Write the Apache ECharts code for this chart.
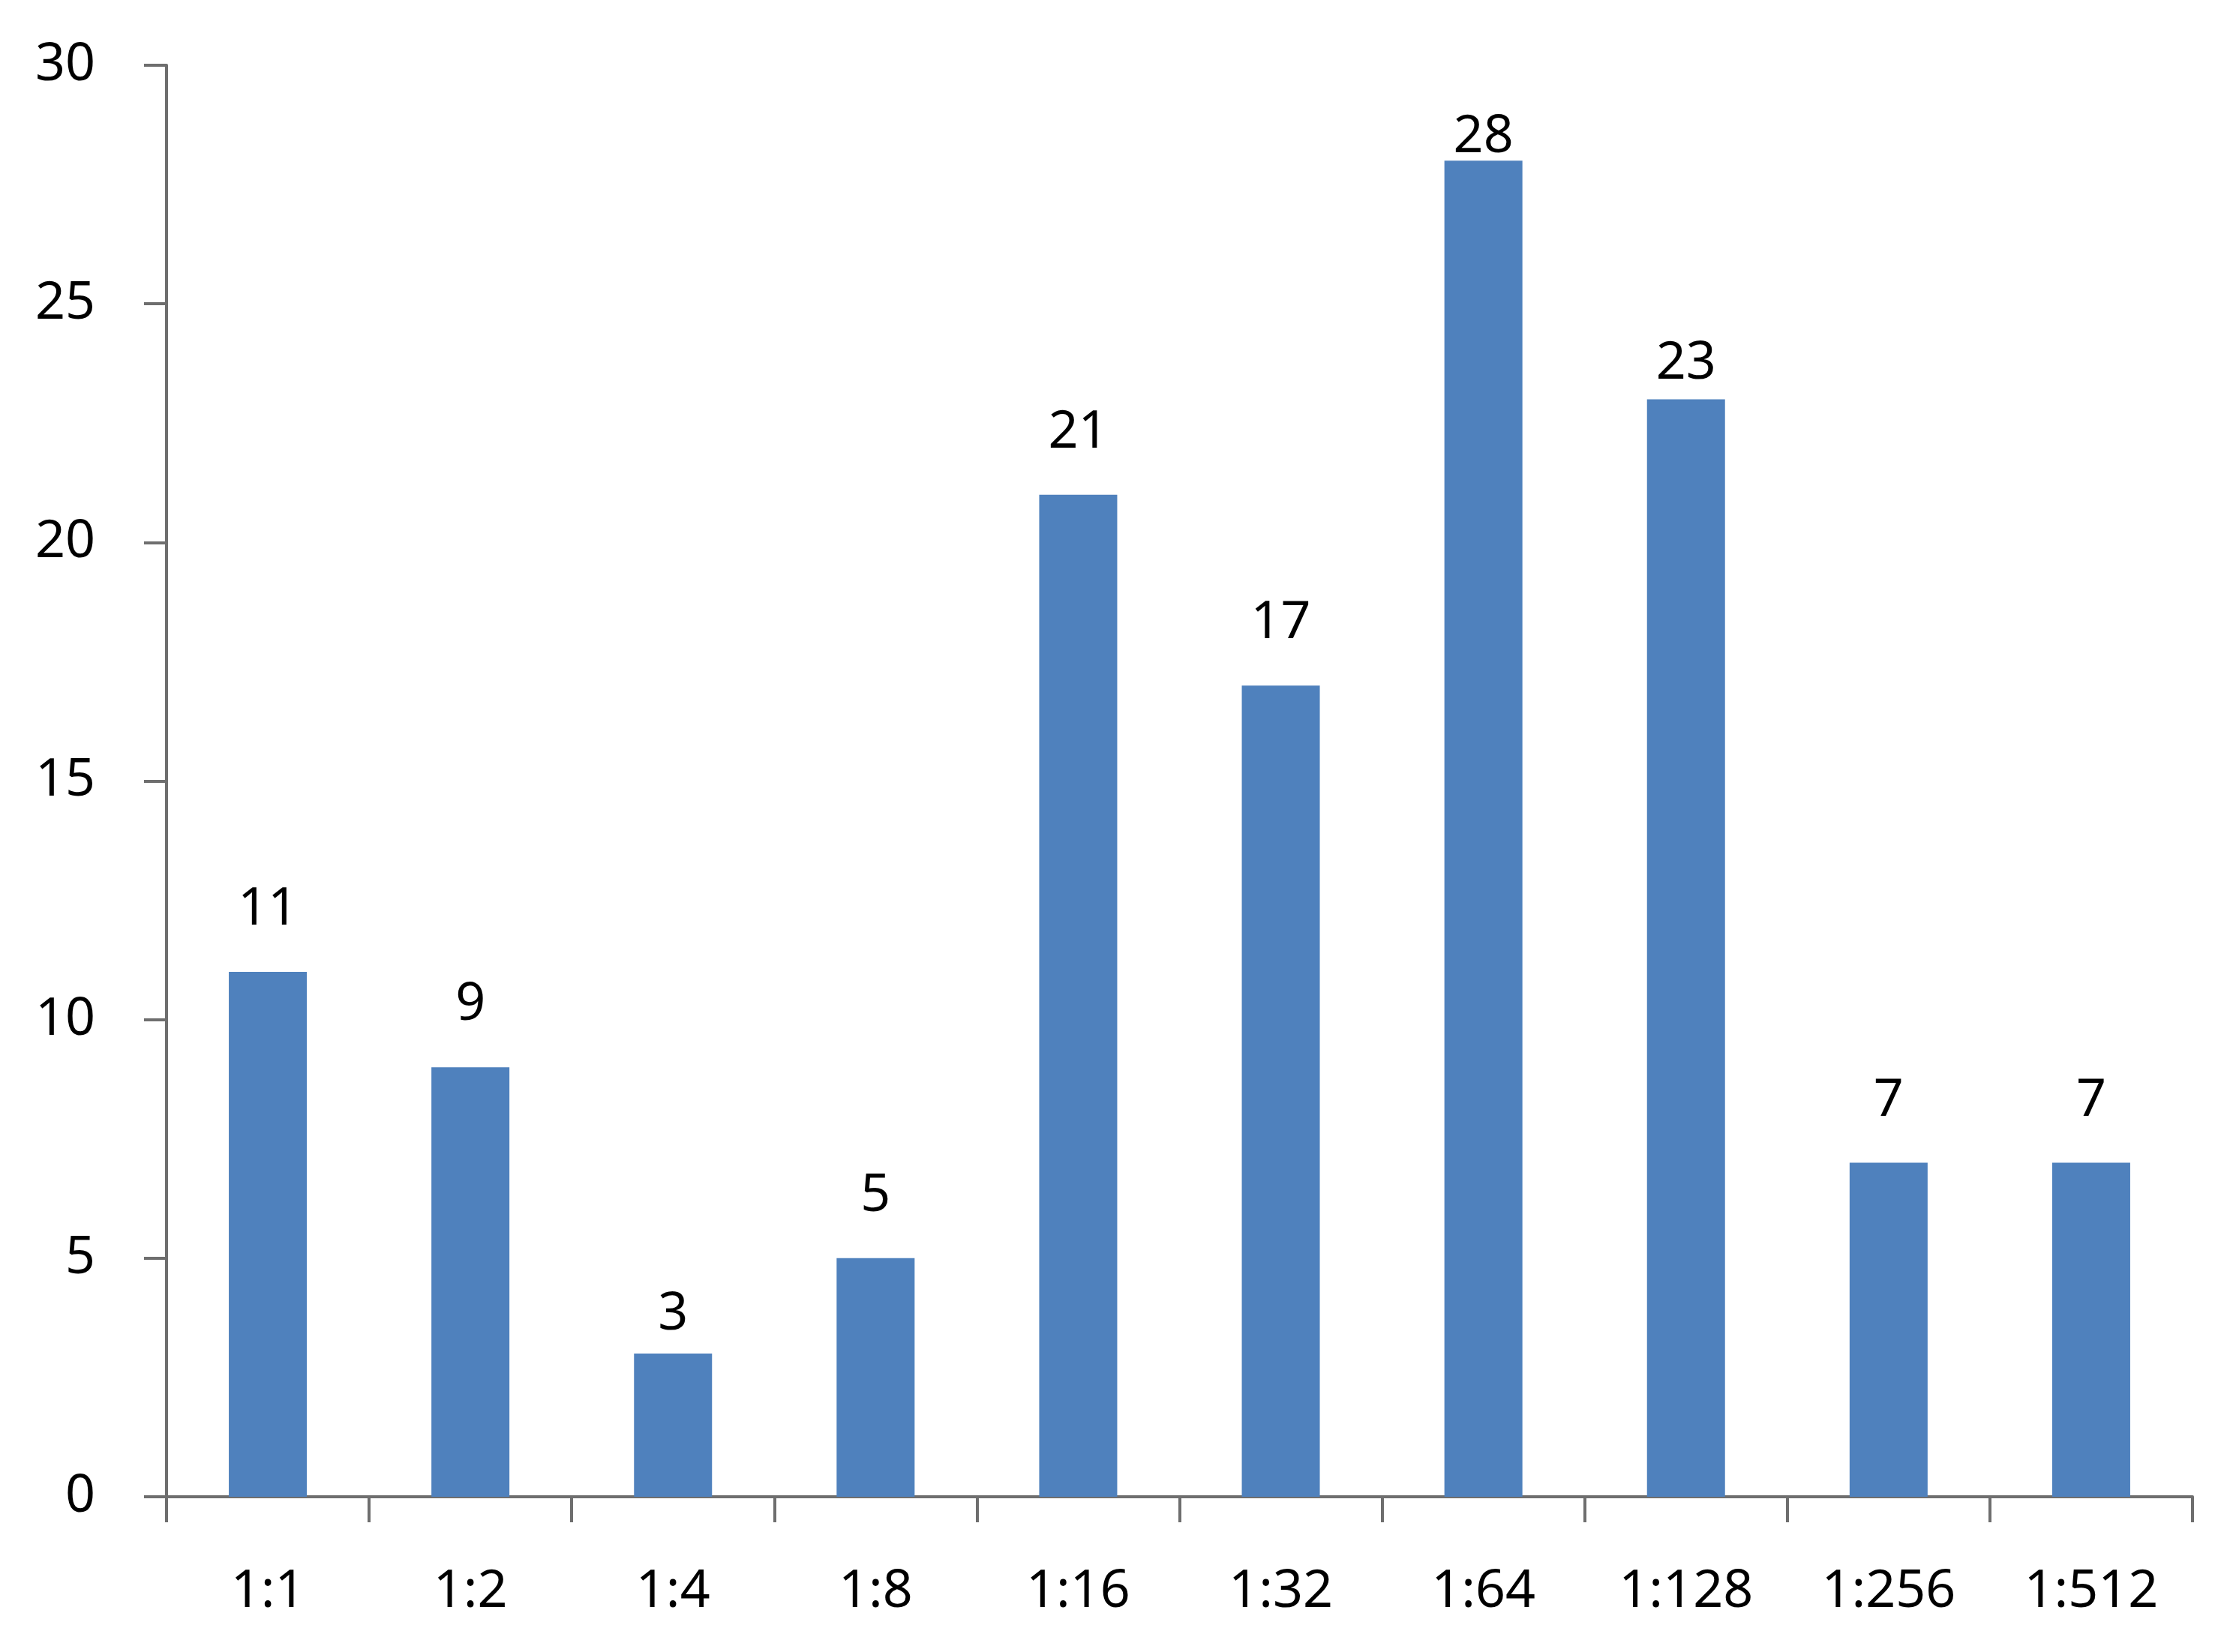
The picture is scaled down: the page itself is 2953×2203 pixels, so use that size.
<!DOCTYPE html>
<html>
<head>
<meta charset="utf-8">
<script src="https://cdn.jsdelivr.net/npm/echarts@6/dist/echarts.min.js"></script>
<style>
html,body{margin:0;padding:0;background:#fff;}
#c{width:2953px;height:2203px;}
</style>
</head>
<body>
<div id="c"></div>
<script>
const categories = ['1:1','1:2','1:4','1:8','1:16','1:32','1:64','1:128','1:256','1:512'];
const values = [11, 9, 3, 5, 21, 17, 28, 23, 7, 7];
const yMin = 0, yMax = 30, yStep = 5;

const chart = echarts.init(document.getElementById('c'), null, {renderer:'canvas'});
const font = '"Noto Sans", "Open Sans", sans-serif';
// label offsets above bars, as placed in the reference
const labelDist = {2: 17, 6: -4, 7: 12};
const seriesData = values.map((v, i) => {
  const d = {value: v};
  if (labelDist[i] !== undefined) d.label = {distance: labelDist[i]};
  return d;
});
chart.setOption({
  animation: false,
  backgroundColor: '#ffffff',
  grid: {left: 222, right: 30, top: 87, bottom: 207, containLabel: false},
  xAxis: {
    type: 'category',
    data: categories,
    boundaryGap: true,
    axisLine: {show: true, lineStyle: {color: '#6e6e6e', width: 4}},
    axisTick: {show: true, length: 34, lineStyle: {color: '#6e6e6e', width: 4}},
    axisLabel: {color: '#000', fontSize: 70, fontFamily: font, margin: 92}
  },
  yAxis: {
    type: 'value',
    min: yMin, max: yMax, interval: yStep,
    axisLine: {show: true, lineStyle: {color: '#6e6e6e', width: 4}},
    axisTick: {show: true, length: 30, lineStyle: {color: '#6e6e6e', width: 4}},
    splitLine: {show: false},
    axisLabel: {color: '#000', fontSize: 70, fontFamily: font, margin: 95}
  },
  series: [{
    type: 'bar',
    data: seriesData,
    barWidth: 104,
    itemStyle: {color: '#4F81BD'},
    label: {show: true, position: 'top', distance: 48, color: '#000', fontSize: 70, fontFamily: font}
  }]
});
</script>
</body>
</html>
